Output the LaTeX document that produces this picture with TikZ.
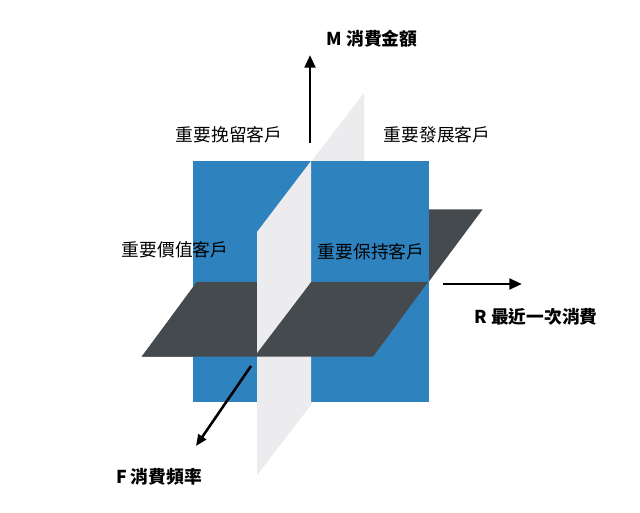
\documentclass[tikz,border=0pt]{standalone}
\usepackage{fontspec}
\setmainfont{Noto Sans CJK TC}
\usetikzlibrary{arrows.meta}
\definecolor{cblue}{RGB}{46,130,190}
\definecolor{cdark}{RGB}{69,74,79}
\definecolor{clight}{RGB}{236,236,239}
\begin{document}
\begin{tikzpicture}[x=0.75pt,y=-0.75pt,
  lab/.style={font=\fontsize{13.3}{15}\selectfont, inner sep=0pt},
  axlab/.style={font=\bfseries\fontsize{13.3}{15}\selectfont, inner sep=0pt},
  axis/.style={line width=2.2pt, -{Triangle[length=9.5pt,width=8pt]}},
  faxis/.style={line width=1.9pt, -{Triangle[length=8.5pt,width=7pt]}}]
\useasboundingbox[fill=white] (0,0) rectangle (640,513);
% back planes
\fill[clight] (364,93) -- (364,336) -- (257,475) -- (257,232) -- cycle;
\fill[cdark] (141.7,356.7) -- (373,356.7) -- (482.7,209.3) -- (251.4,209.3) -- cycle;
% blue square
\fill[cblue] (193,161) rectangle (429,402);
% front lower quadrant of light plane
\fill[clight] (311,282) -- (311,404) -- (257,475) -- (257,353) -- cycle;
% front half of dark plane
\fill[cdark] (141.7,356.7) -- (373,356.7) -- (428,282) -- (196.7,282) -- cycle;
% front upper quadrant of light plane
\fill[clight] (311,161) -- (257,232) -- (257,353) -- (311,282) -- cycle;
% axes
\coordinate (m0) at (310,143);
\coordinate (m1) at (310,55);
\coordinate (r0) at (443,284);
\coordinate (r1) at (522,284);
\coordinate (f0) at (251,366);
\coordinate (f1) at (196,446);
\draw[axis] (m0) -- (m1);
\draw[axis] (r0) -- (r1);
\draw[faxis] (f0) -- (f1);
% labels
\node[axlab] (lm) at (372,39) {M 消費金額};
\node[axlab] (lr) at (536,317) {R 最近一次消費};
\node[axlab] (lf) at (159,477) {F 消費頻率};
\node[lab] (q1) at (229,135) {重要挽留客戶};
\node[lab] (q2) at (437,135) {重要發展客戶};
\node[lab] (q3) at (175,250) {重要價值客戶};
\node[lab] (q4) at (371,252) {重要保持客戶};
\end{tikzpicture}
\end{document}
